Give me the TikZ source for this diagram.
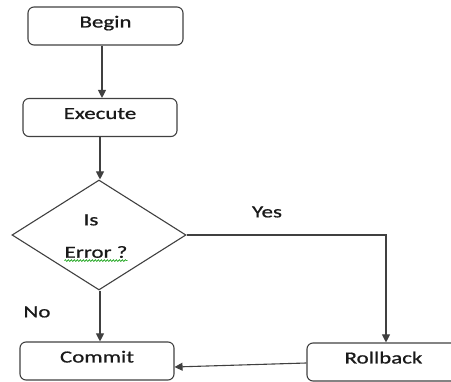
\documentclass[tikz,border=0pt]{standalone}
\usepackage{fontspec}
\setmainfont[FakeStretch=1.35,FakeBold=0.8]{Carlito}
\usetikzlibrary{arrows.meta,shapes.geometric,decorations.pathmorphing}
\tikzset{
  line/.style={draw=black!75, line width=1.1pt},
  arr/.style={line, -{Triangle[length=8pt,width=8pt]}},
  box/.style={line, rounded corners=6pt, minimum height=38pt, inner sep=0pt,
    text height=11pt, text depth=8pt, font=\fontsize{17}{20}\selectfont, text=black!90},
  lbl/.style={inner sep=0pt, font=\fontsize{17}{20}\selectfont, text=black!90},
  dec/.style={line, diamond, minimum width=174pt, minimum height=110pt, inner sep=0pt}
}
\begin{document}
\begin{tikzpicture}[x=1pt,y=-1pt]
\useasboundingbox (0,0) rectangle (451,382);
\node[box, minimum width=155pt] (Begin) at (105.5,26) {Begin};
\node[box, minimum width=154pt] (Execute) at (100,117.5) {Execute};
\node[dec] (Dec) at (99,235) {};
\node[lbl] (isTxt) at (91,220) {Is};
\node[lbl] (errTxt) at (96,252) {Error ?};
\node[box, minimum width=154pt] (Commit) at (97,361) {Commit};
\begin{scope}
\clip (0,0) rectangle (451,382);
\node[box, minimum width=153pt] (Rollback) at (383.5,362) {Rollback};
\end{scope}
\node[lbl] (yesTxt) at (267,212) {Yes};
\node[lbl] (noTxt) at (37,312) {No};
\draw[green!60!black, line width=0.6pt, decorate, decoration={snake, amplitude=0.9pt, segment length=3pt}]
  ([yshift=-2.5pt]errTxt.south west) -- ([yshift=-2.5pt]errTxt.south east);
\draw[arr] (Begin.south -| 102,0) -- (Execute.north -| 102,0);
\draw[arr] (Execute.south -| 100,0) -- (Dec.north -| 100,0);
\draw[arr] (Dec.south -| 100,0) -- (Commit.north -| 100,0);
\coordinate (corner) at (386,236);
\draw[arr] (Dec.east) -- (Dec.east -| corner) -- (corner) -- (Rollback.north -| corner);
\draw[arr] ([yshift=-1pt]Rollback.west) -- ([yshift=-6pt]Commit.east);
\end{tikzpicture}
\end{document}
